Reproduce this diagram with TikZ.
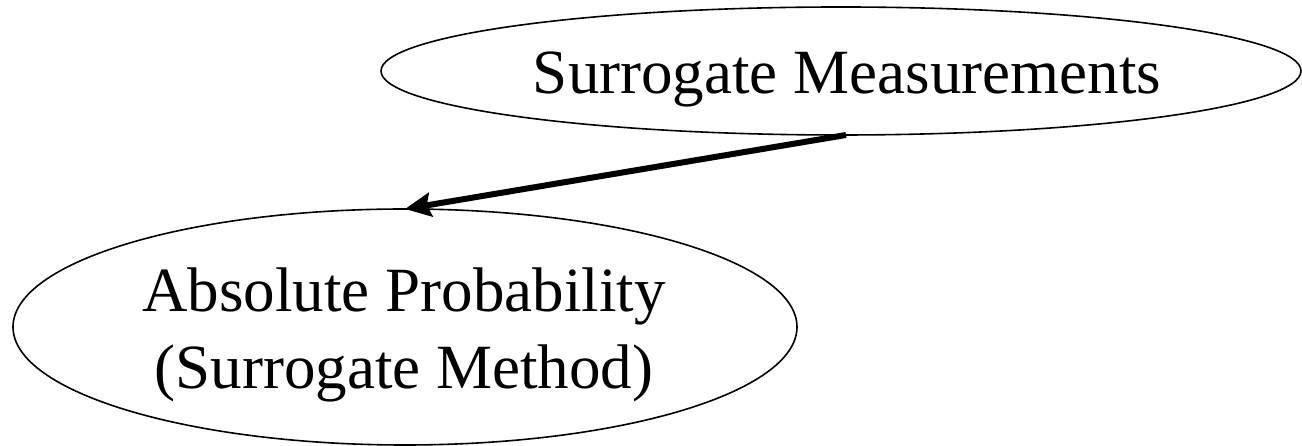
\documentclass[tikz,border=0pt]{standalone}
\usepackage{fontspec}
\setmainfont{Liberation Serif}
\usetikzlibrary{arrows.meta}
\begin{document}
\begin{tikzpicture}[x=1pt,y=1pt,
  oval/.style={draw, line width=1.6pt},
  lbl/.style={font=\fontsize{63}{77}\selectfont, align=center},
  link/.style={line width=6pt, -{Stealth[length=26pt,width=24pt,inset=4pt]}}]
\useasboundingbox (0,0) rectangle (1302,446);
\draw[oval] (841,375) ellipse [x radius=460, y radius=64];
\coordinate (topS) at (846,311);
\node[lbl] (sm) at (847,367) {Surrogate Measurements};
\draw[oval] (405,119) ellipse [x radius=392, y radius=118];
\coordinate (botN) at (405,237);
\node[lbl] (ap) at (404,111) {Absolute Probability\\(Surrogate Method)};
\draw[link] (topS) -- (botN);
\end{tikzpicture}
\end{document}
